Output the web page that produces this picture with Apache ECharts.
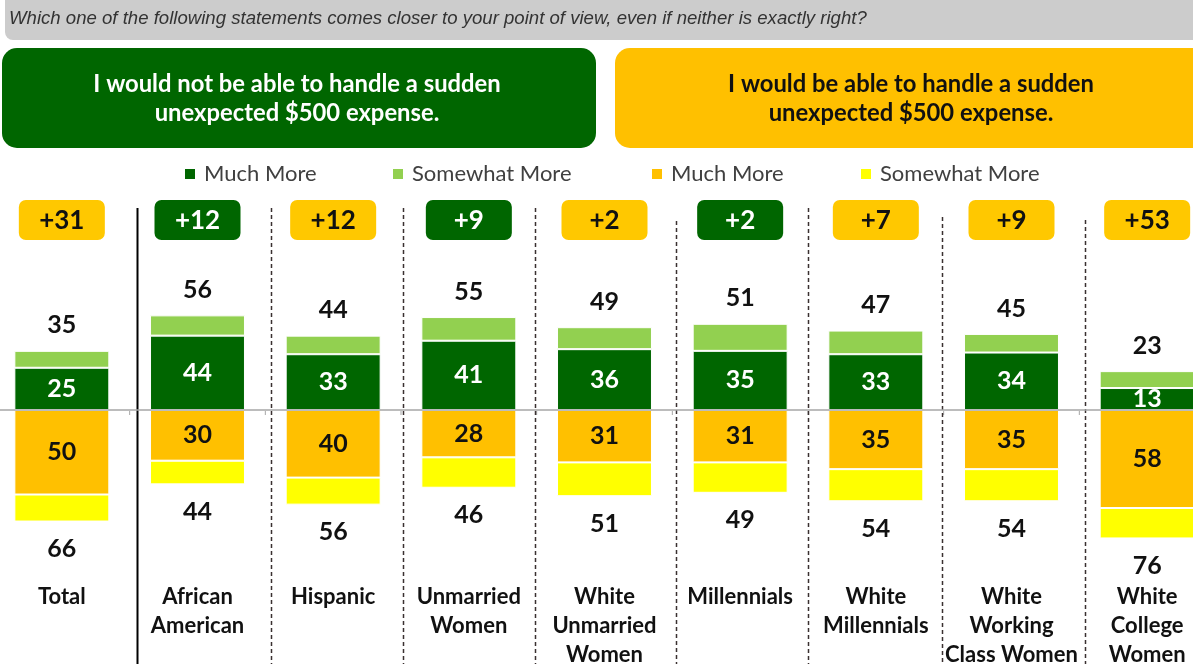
<!DOCTYPE html>
<html>
<head>
<meta charset="utf-8">
<script src="https://cdn.jsdelivr.net/npm/echarts@6/dist/echarts.min.js"></script>
<style>
  html, body { margin: 0; padding: 0; background: #fff; overflow: hidden; }
  /* the plot runs a few pixels past both page edges */
  #chart { position: absolute; left: -6px; top: 0; width: 1221px; height: 664px; }
</style>
</head>
<body>
<div id="chart"></div>
<script>
// Survey groups (x axis)
const categories = ['Total', 'African\nAmerican', 'Hispanic', 'Unmarried\nWomen',
  'White\nUnmarried\nWomen', 'Millennials', 'White\nMillennials',
  'White\nWorking\nClass Women', 'White\nCollege\nWomen'];

// "Would not be able to handle" — much more, and overall total
const notMuch  = [25, 44, 33, 41, 36, 35, 33, 34, 13];
const notTotal = [35, 56, 44, 55, 49, 51, 47, 45, 23];

// "Would be able to handle" — much more, and overall total
const ableMuch  = [50, 30, 40, 28, 31, 31, 35, 35, 58];
const ableTotal = [66, 44, 56, 46, 51, 49, 54, 54, 76];

const notSome  = notTotal.map((t, i) => t - notMuch[i]);
const ableSome = ableTotal.map((t, i) => t - ableMuch[i]);

const question = 'Which one of the following statements comes closer to your point of view, even if neither is exactly right?';
const notText  = 'I would not be able to handle a sudden\nunexpected $500 expense.';
const ableText = 'I would be able to handle a sudden\nunexpected $500 expense.';

const C_DARK = '#006600', C_LIGHT = '#92D050', C_AMBER = '#FFC000', C_YELLOW = '#FFFF00';
const C_BADGE_AMBER = '#FFC800';
const FONT = 'Lato, "Open Sans", sans-serif';
const OFF = 6; // page x = chart x - OFF

// per-separator styling: horizontal nudge and top edge
const sepShift = [7, 6, 2, -2, 4, 0, -2, 6];
const sepTop   = [208, 208, 208, 208, 221, 208, 217, 220];

const chart = echarts.init(document.getElementById('chart'), null, { renderer: 'canvas' });

const numLabel = { fontFamily: FONT, fontWeight: 'bold', fontSize: 25 };

const legendBase = {
  top: 158, padding: 5, icon: 'rect', itemWidth: 12, itemHeight: 12, selectedMode: false,
  formatter: n => n.split('|')[0],
  textStyle: { fontFamily: FONT, fontSize: 22, color: '#404040', padding: [0, 0, 0, 3] }
};

chart.setOption({
  animation: false,
  grid: { left: 0, right: 0, top: 241, bottom: 85, containLabel: false, outerBoundsMode: 'none' },
  legend: [
    Object.assign({ left: 178 + OFF, data: ['Much More|n'] }, legendBase),
    Object.assign({ left: 386 + OFF, data: ['Somewhat More|n'] }, legendBase),
    Object.assign({ left: 645 + OFF, data: ['Much More|a'] }, legendBase),
    Object.assign({ left: 854 + OFF, data: ['Somewhat More|a'] }, legendBase)
  ],
  xAxis: {
    type: 'category', data: categories, position: 'bottom',
    axisLine: { show: false, onZero: false }, axisTick: { show: false },
    axisLabel: { interval: 0, margin: 3, fontFamily: FONT, fontWeight: 'bold',
      fontSize: 22, lineHeight: 29, color: '#111', verticalAlign: 'top' }
  },
  yAxis: { type: 'value', min: -100, max: 100, show: false, splitLine: { show: false } },
  series: [
    {
      name: 'Much More|n', type: 'bar', stack: 'v', barWidth: '70%', data: notMuch,
      itemStyle: { color: C_DARK, borderColor: '#fff', borderWidth: 1 },
      label: Object.assign({ show: true, position: 'inside', color: '#fff' }, numLabel),
      markLine: {
        silent: true, symbol: 'none', label: { show: false },
        lineStyle: { color: '#a6a6a6', width: 1.5, type: 'solid' },
        data: [{ yAxis: 0 }]
      }
    },
    {
      name: 'Somewhat More|n', type: 'bar', stack: 'v', data: notSome,
      itemStyle: { color: C_LIGHT, borderColor: '#fff', borderWidth: 1 },
      label: Object.assign({ show: true, position: 'top', distance: 13, color: '#111',
        formatter: p => notTotal[p.dataIndex] }, numLabel)
    },
    {
      name: 'Much More|a', type: 'bar', stack: 'v', data: ableMuch.map(v => -v),
      itemStyle: { color: C_AMBER, borderColor: '#fff', borderWidth: 1 },
      label: Object.assign({ show: true, position: 'inside', color: '#111',
        formatter: p => ableMuch[p.dataIndex] }, numLabel)
    },
    {
      name: 'Somewhat More|a', type: 'bar', stack: 'v', data: ableSome.map(v => -v),
      itemStyle: { color: C_YELLOW, borderColor: '#fff', borderWidth: 1 },
      label: Object.assign({ show: true, position: 'bottom', distance: 15, color: '#111',
        formatter: p => ableTotal[p.dataIndex] }, numLabel)
    },
    {
      // net-difference badges above each group
      type: 'custom', silent: true,
      data: categories.map((c, i) => [i, 0]),
      renderItem: (params, api) => {
        const i = api.value(0);
        const x = api.coord([i, 0])[0];
        const diff = notTotal[i] - ableTotal[i];
        const greenWins = diff > 0;
        return {
          type: 'group',
          children: [
            { type: 'rect', shape: { x: x - 43, y: 200, width: 86, height: 40, r: 7 },
              style: { fill: greenWins ? C_DARK : C_BADGE_AMBER } },
            { type: 'text', style: { text: '+' + Math.abs(diff), x: x, y: 221,
              align: 'center', verticalAlign: 'middle', fill: greenWins ? '#fff' : '#111',
              font: 'bold 26px ' + FONT } }
          ]
        };
      }
    }
  ]
});

// Header boxes, group separators and zero-line ticks
const px = i => chart.convertToPixel({ xAxisIndex: 0 }, i);
const g = [
  { type: 'rect', shape: { x: 5 + OFF, y: -12, width: 1220, height: 52, r: 8 }, style: { fill: '#cccccc' } },
  { type: 'text', style: { text: question, x: 9 + OFF, y: 19, verticalAlign: 'middle',
      font: 'italic 18.6px "Liberation Sans", Arial, sans-serif', fill: '#333' } },
  { type: 'rect', shape: { x: 2 + OFF, y: 48, width: 594, height: 100, r: 15 }, style: { fill: C_DARK } },
  { type: 'text', style: { text: notText, x: 297 + OFF, y: 99, align: 'center', verticalAlign: 'middle',
      font: 'bold 23.8px ' + FONT, lineHeight: 29, fill: '#fff' } },
  { type: 'rect', shape: { x: 615 + OFF, y: 48, width: 600, height: 100, r: 15 }, style: { fill: C_AMBER } },
  { type: 'text', style: { text: ableText, x: 911 + OFF, y: 99, align: 'center', verticalAlign: 'middle',
      font: 'bold 23.8px ' + FONT, lineHeight: 29, fill: '#111' } }
];
const zeroY = chart.convertToPixel({ yAxisIndex: 0 }, 0);
for (let k = 1; k < categories.length; k++) {
  const bx = (px(k - 1) + px(k)) / 2;
  g.push({ type: 'line', shape: { x1: bx, y1: zeroY + 1, x2: bx, y2: zeroY + 5 },
    style: { stroke: '#a6a6a6', lineWidth: 1 } });
  const sx = Math.round(bx + sepShift[k - 1]) + 0.5;
  g.push({ type: 'line', shape: { x1: sx, y1: sepTop[k - 1], x2: sx, y2: 664 },
    style: k === 1 ? { stroke: '#000', lineWidth: 2 }
                   : { stroke: '#3a3030', lineWidth: 1.5, lineDash: [4, 3] } });
}
chart.setOption({ graphic: g });
</script>
</body>
</html>
